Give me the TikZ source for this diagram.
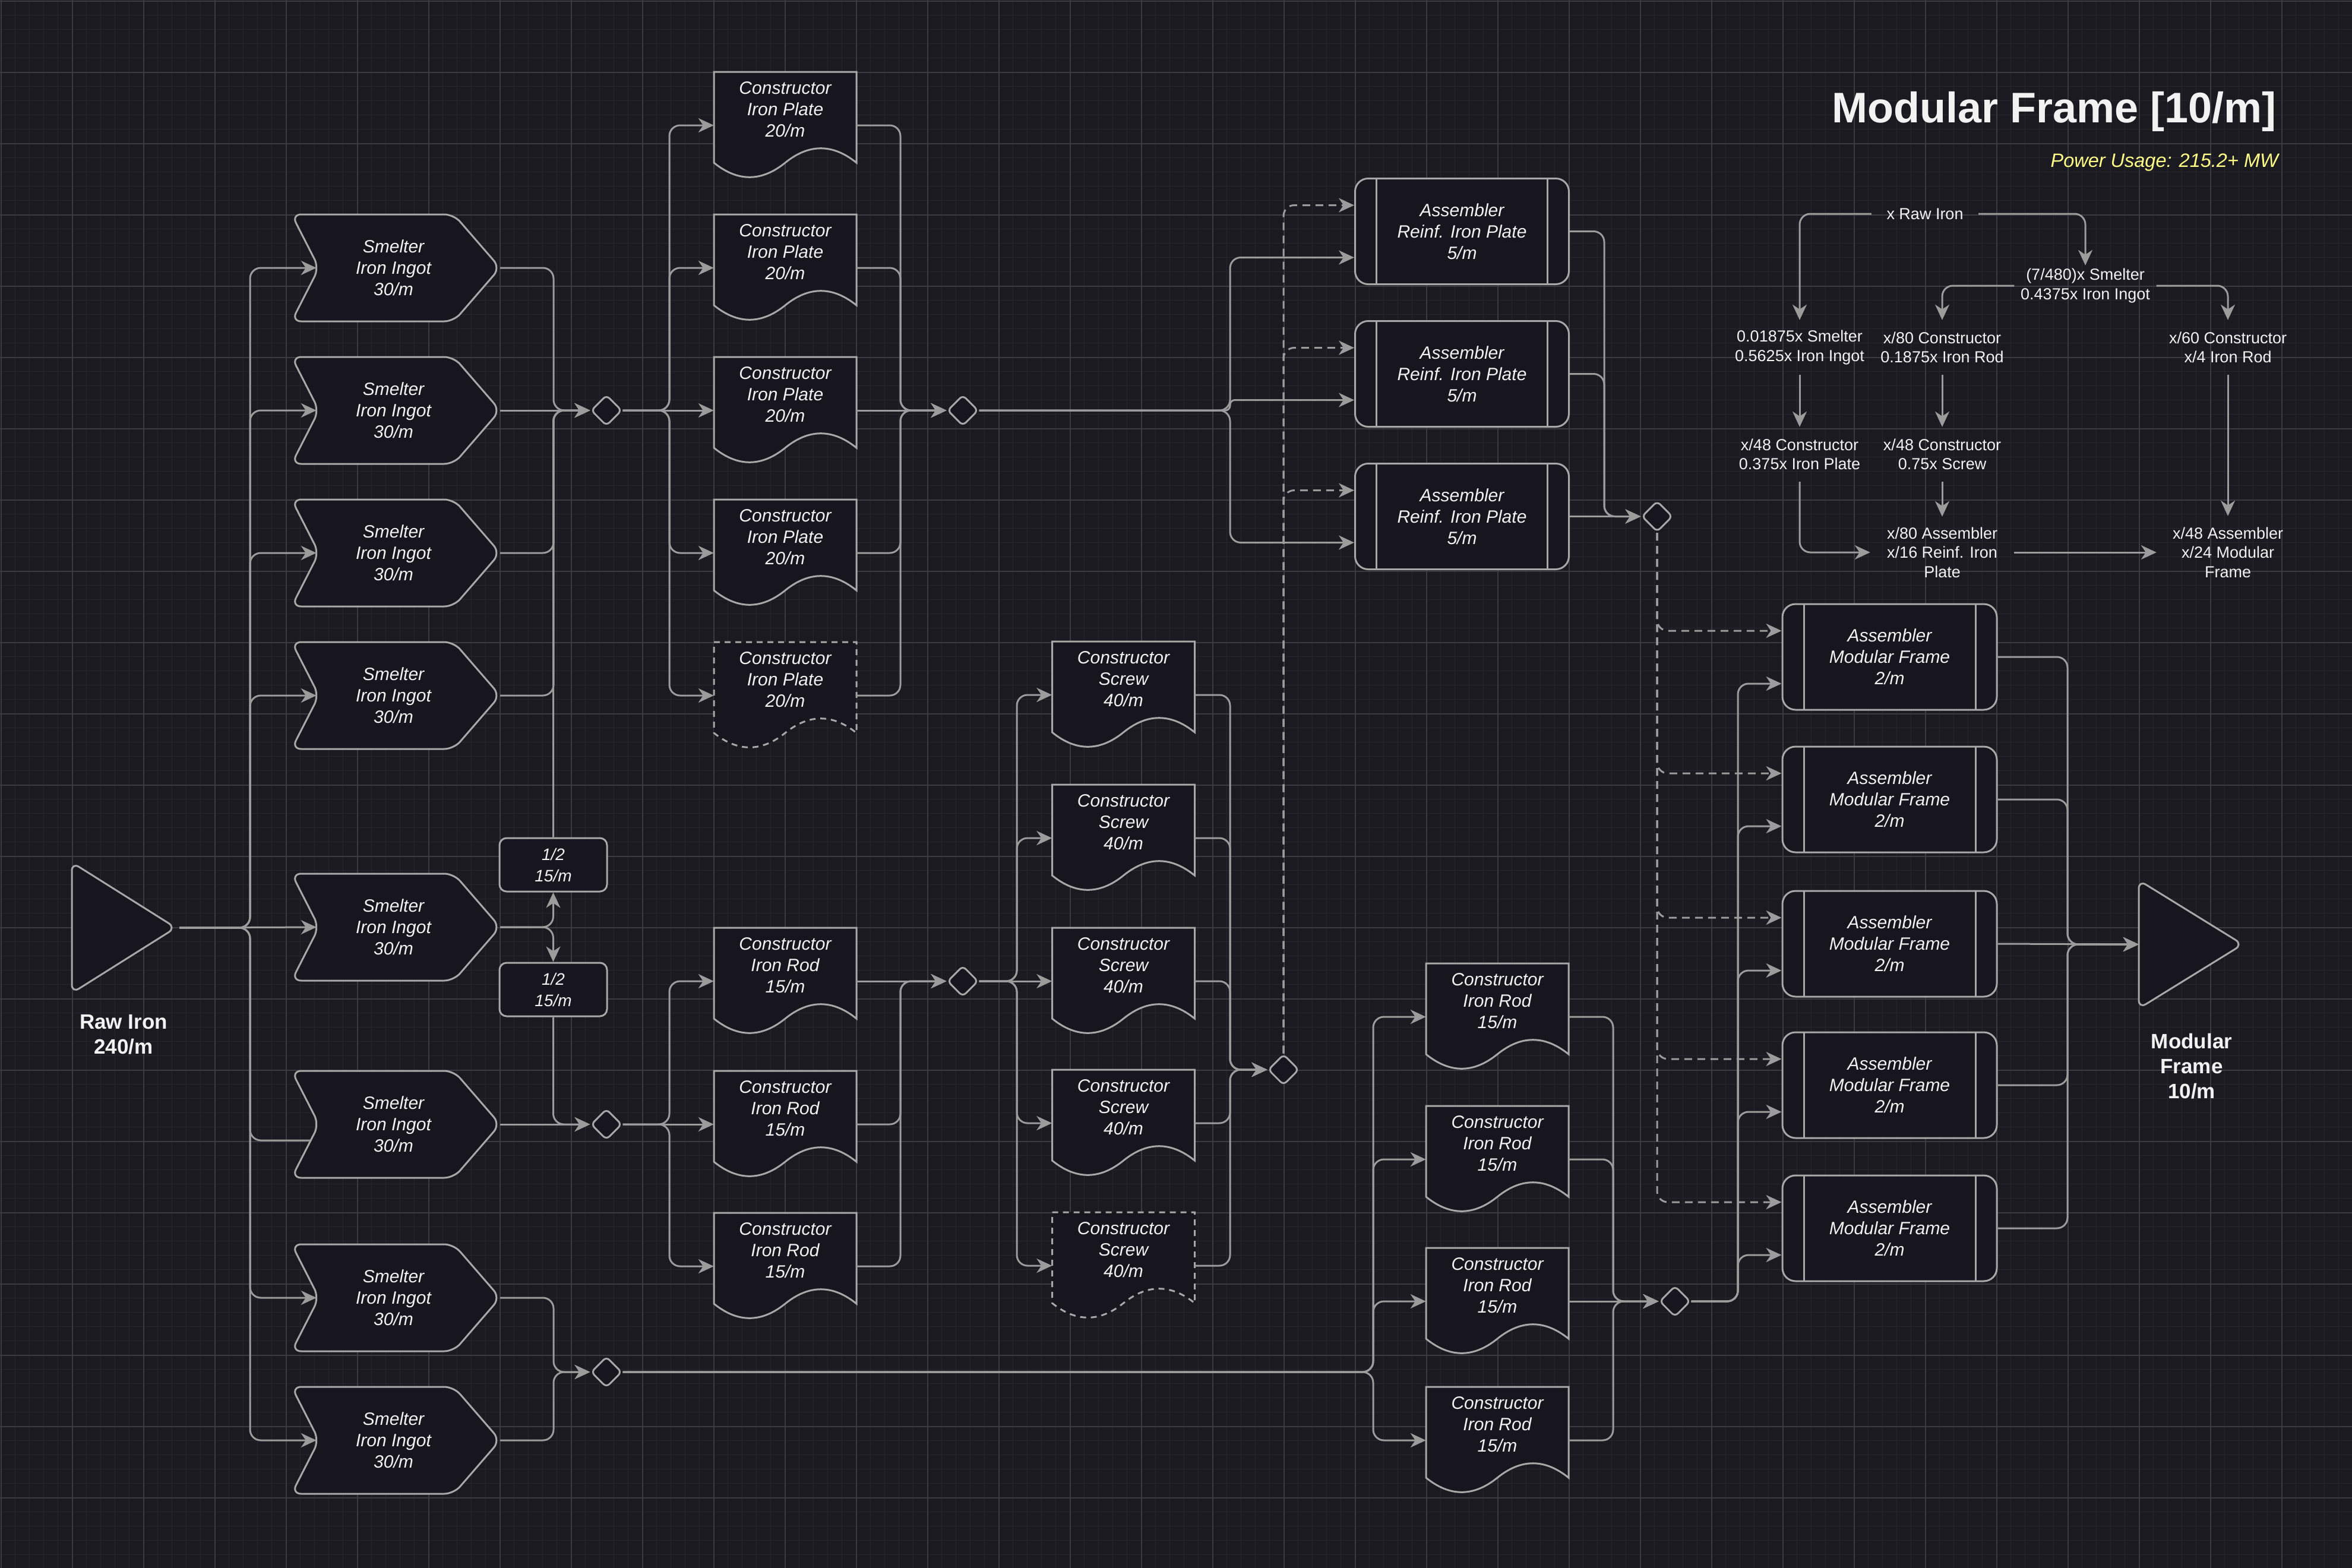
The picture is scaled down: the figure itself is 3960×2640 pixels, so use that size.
\documentclass[tikz,border=0pt]{standalone}
\usepackage{fontspec}
\setmainfont{Liberation Sans}
\usetikzlibrary{arrows.meta,shapes.geometric}
\definecolor{bgc}{HTML}{1B1A21}
\definecolor{gridminor}{HTML}{28272F}
\definecolor{gridmajor}{HTML}{3B3A43}
\definecolor{boxfill}{HTML}{17161E}
\definecolor{shapegray}{HTML}{A8A8A8}
\definecolor{linegray}{HTML}{9C9C9C}
\definecolor{txtc}{HTML}{F2F2F2}
\definecolor{powc}{HTML}{FFFF88}

\newcommand\mkSmelter[2]{%
  \draw[shapeline, rounded corners=16pt] (491,#2-90) -- (764,#2-90) -- (842,#2) -- (764,#2+90) -- (491,#2+90) -- (537,#2) -- cycle;
  \node[boxtext, inner sep=0pt, minimum width=343pt, minimum height=180pt] (#1) at (662.5,#2) {Smelter\\Iron Ingot\\30/m};
  \coordinate (#1i) at ([xshift=42pt]#1.west);
  \coordinate (#1o) at ([xshift=8pt]#1.east);
}
\newcommand\mkDoc[5]{%
  \draw[shapeline,#5] (#2-120,#3-90) -- (#2+120,#3-90) -- (#2+120,#3+63)
     .. controls (#2+80,#3+30.6) and (#2+40,#3+30.6) .. (#2,#3+63)
     .. controls (#2-40,#3+95.4) and (#2-80,#3+95.4) .. (#2-120,#3+63) -- cycle;
  \node[inner sep=0pt, minimum width=240pt, minimum height=180pt] (#1) at (#2,#3) {};
  \node[boxtext] (#1t) at (#2,#3-27) {#4};
}

\begin{document}
\begin{tikzpicture}[x=1pt,y=-1pt,
  shapeline/.style={draw=shapegray, line width=3pt, fill=boxfill},
  boxtext/.style={text=txtc, font=\fontsize{30}{36}\selectfont\itshape, align=center},
  conn/.style={draw=linegray, line width=3pt, rounded corners=18pt, -{Stealth[length=26pt,width=24pt,inset=8pt]}},
  plainconn/.style={draw=linegray, line width=3pt, rounded corners=18pt},
  dashconn/.style={conn, dash pattern=on 13pt off 9pt},
  dashbox/.style={dash pattern=on 10pt off 8pt},
  diam/.style={shape=diamond, draw=shapegray, fill=boxfill, line width=3pt, minimum width=52pt, minimum height=52pt, inner sep=0pt, rounded corners=7pt},
  halfbox/.style={shapeline, rounded corners=12pt, minimum width=181pt, minimum height=90pt, inner sep=0pt, text=txtc, font=\fontsize{28}{36}\selectfont\itshape, align=center},
  asm/.style={shapeline, boxtext, rounded corners=22pt, minimum width=360pt, minimum height=178pt, inner sep=0pt,
    path picture={\draw[draw=shapegray, line width=3pt]
      ([xshift=36pt]path picture bounding box.north west) -- ([xshift=36pt]path picture bounding box.south west)
      ([xshift=-36pt]path picture bounding box.north east) -- ([xshift=-36pt]path picture bounding box.south east);}},
  ftext/.style={text=txtc, font=\fontsize{27}{32.5}\selectfont, align=center, inner sep=0pt},
  biglabel/.style={text=txtc, font=\fontsize{35}{42}\selectfont\bfseries, align=center, inner sep=0pt},
]
% background and grid
\fill[bgc] (0,0) rectangle (3960,2640);
\useasboundingbox (0,0) rectangle (3960,2640);
\foreach \i in {0,...,165} \draw[gridminor, line width=1.2pt] ({1.5+24*\i},0) -- ({1.5+24*\i},2640);
\foreach \i in {0,...,110} \draw[gridminor, line width=1.2pt] (0,{1.5+24*\i}) -- (3960,{1.5+24*\i});
\foreach \i in {0,...,33} \draw[gridmajor, line width=2pt] ({1.5+120*\i},0) -- ({1.5+120*\i},2640);
\foreach \i in {0,...,22} \draw[gridmajor, line width=2pt] (0,{1.5+120*\i}) -- (3960,{1.5+120*\i});

% trunk x positions
\coordinate (xA) at (421,0);
\coordinate (xB) at (932,0);
\coordinate (xC) at (1127,0);
\coordinate (xD) at (1516,0);
\coordinate (xE) at (2071,0);
\coordinate (xF) at (1712,0);
\coordinate (xG) at (2701,0);
\coordinate (xH) at (2312,0);
\coordinate (xI) at (2716,0);
\coordinate (xJ) at (2926,0);
\coordinate (xK) at (3481,0);

% title
\node[anchor=base east, inner sep=0pt, text=txtc, font=\fontsize{72}{86}\selectfont\bfseries] (title) at (3833,206) {Modular Frame [10/m]};
\node[anchor=base east, inner sep=0pt, text=powc, font=\fontsize{32.5}{39}\selectfont\itshape] (power) at (3836,281) {Power Usage: 215.2+ MW};

% raw iron source
\draw[shapeline, rounded corners=14pt] (121,1452) -- (296,1562) -- (121,1672) -- cycle;
\node[inner sep=0pt, minimum width=175pt, minimum height=220pt] (raw) at (208.5,1562) {};
\coordinate (rawout) at ([xshift=6pt]raw.east);
\node[biglabel] (rawlbl) at (208,1742) {Raw Iron\\240/m};

% modular frame sink
\draw[shapeline, rounded corners=14pt] (3601,1482) -- (3776,1590) -- (3601,1698) -- cycle;
\node[inner sep=0pt, minimum width=175pt, minimum height=216pt] (mfo) at (3688.5,1590) {};
\node[biglabel] (mflbl) at (3690,1795) {Modular\\Frame\\10/m};

% smelters
\mkSmelter{s1}{451}
\mkSmelter{s2}{691}
\mkSmelter{s3}{931}
\mkSmelter{s4}{1171}
\mkSmelter{s5}{1561}
\mkSmelter{s6}{1893}
\mkSmelter{s7}{2185}
\mkSmelter{s8}{2425}
\coordinate (s6low) at ([xshift=32pt,yshift=-27pt]s6.west);

% splitter boxes
\node[halfbox] (h1) at (931.5,1456) {1/2\\15/m};
\node[halfbox] (h2) at (931.5,1666) {1/2\\15/m};

% diamonds
\node[diam] (d1) at (1021,691) {};
\node[diam] (d2) at (1621,691) {};
\node[diam] (d3) at (2790,869.5) {};
\node[diam] (d4) at (2820,2191) {};
\node[diam] (d5) at (1621,1652) {};
\node[diam] (d6) at (2161,1801) {};
\node[diam] (db) at (1021,1893) {};
\node[diam] (dc) at (1021,2310) {};

% iron plate constructors
\mkDoc{c1}{1322}{211}{Constructor\\Iron Plate\\20/m}{}
\mkDoc{c2}{1322}{451}{Constructor\\Iron Plate\\20/m}{}
\mkDoc{c3}{1322}{691}{Constructor\\Iron Plate\\20/m}{}
\mkDoc{c4}{1322}{931}{Constructor\\Iron Plate\\20/m}{}
\mkDoc{c5}{1322}{1171}{Constructor\\Iron Plate\\20/m}{dashbox}

% iron rod constructors (group 1)
\mkDoc{r1}{1322}{1652}{Constructor\\Iron Rod\\15/m}{}
\mkDoc{r2}{1322}{1893}{Constructor\\Iron Rod\\15/m}{}
\mkDoc{r3}{1322}{2132}{Constructor\\Iron Rod\\15/m}{}

% screw constructors
\mkDoc{sc1}{1891.5}{1170}{Constructor\\Screw\\40/m}{}
\mkDoc{sc2}{1891.5}{1411}{Constructor\\Screw\\40/m}{}
\mkDoc{sc3}{1891.5}{1652}{Constructor\\Screw\\40/m}{}
\mkDoc{sc4}{1891.5}{1891}{Constructor\\Screw\\40/m}{}
\mkDoc{sc5}{1891.5}{2131}{Constructor\\Screw\\40/m}{dashbox}

% iron rod constructors (group 2)
\mkDoc{r4}{2521}{1712}{Constructor\\Iron Rod\\15/m}{}
\mkDoc{r5}{2521}{1952}{Constructor\\Iron Rod\\15/m}{}
\mkDoc{r6}{2521}{2191}{Constructor\\Iron Rod\\15/m}{}
\mkDoc{r7}{2521}{2425}{Constructor\\Iron Rod\\15/m}{}

% reinforced iron plate assemblers
\node[asm] (a1) at (2461.5,389.5) {Assembler\\Reinf. Iron Plate\\5/m};
\node[asm] (a2) at (2461.5,629.5) {Assembler\\Reinf. Iron Plate\\5/m};
\node[asm] (a3) at (2461.5,869.5) {Assembler\\Reinf. Iron Plate\\5/m};
\foreach \k in {1,2,3} {
  \coordinate (a\k d) at ([yshift=44pt]a\k.west);
  \coordinate (a\k s) at ([yshift=-44pt]a\k.west);
}

% modular frame assemblers
\node[asm, minimum width=361pt] (m1) at (3181.5,1106) {Assembler\\Modular Frame\\2/m};
\node[asm, minimum width=361pt] (m2) at (3181.5,1346) {Assembler\\Modular Frame\\2/m};
\node[asm, minimum width=361pt] (m3) at (3181.5,1589) {Assembler\\Modular Frame\\2/m};
\node[asm, minimum width=361pt] (m4) at (3181.5,1827) {Assembler\\Modular Frame\\2/m};
\node[asm, minimum width=361pt] (m5) at (3181.5,2068) {Assembler\\Modular Frame\\2/m};
\foreach \k in {1,...,5} {
  \coordinate (m\k d) at ([yshift=44pt]m\k.west);
  \coordinate (m\k s) at ([yshift=-45pt]m\k.west);
}

% ---------------- connectors ----------------
% raw iron to smelters
\foreach \k in {1,2,3,4,7,8} \draw[conn] (rawout) -- (rawout -| xA) |- (s\k i);
\draw[conn] (rawout) -- (s5i);
\draw[plainconn] (rawout) -- (rawout -| xA) |- (s6low);

% smelters to merges
\foreach \k in {1,3,4} \draw[conn] (s\k o) -- (s\k o -| xB) |- (d1.west);
\draw[conn] (s2o) -- (d1.west);
\draw[conn] (h1.north) |- (d1.west);
\draw[conn] (s5o) -| (h1.south);
\draw[conn] (s5o) -| (h2.north);
\draw[conn] (h2.south) |- (db.west);
\draw[conn] (s6o) -- (db.west);
\foreach \k in {7,8} \draw[conn] (s\k o) -- (s\k o -| xB) |- (dc.west);

% ingots to iron plate constructors
\foreach \k in {1,2,4,5} \draw[conn] (d1.east) -- (d1.east -| xC) |- (c\k.west);
\draw[conn] (d1.east) -- (c3.west);
\foreach \k in {1,2,4,5} \draw[conn] (c\k.east) -- (c\k.east -| xD) |- (d2.west);
\draw[conn] (c3.east) -- (d2.west);

% plates to reinforced plate assemblers
\foreach \k in {1,3} \draw[conn] (d2.east) -- (d2.east -| xE) |- (a\k s);
\draw[conn, rounded corners=8pt] (d2.east) -- (d2.east -| xE) |- (a2s);

% ingots to iron rod constructors (group 1)
\foreach \k in {1,3} \draw[conn] (db.east) -- (db.east -| xC) |- (r\k.west);
\draw[conn] (db.east) -- (r2.west);
\foreach \k in {2,3} \draw[conn] (r\k.east) -- (r\k.east -| xD) |- (d5.west);
\draw[conn] (r1.east) -- (d5.west);

% rods to screw constructors
\foreach \k in {1,2,4,5} \draw[conn] (d5.east) -- (d5.east -| xF) |- (sc\k.west);
\draw[conn] (d5.east) -- (sc3.west);
\foreach \k in {1,...,5} \draw[conn] (sc\k.east) -- (sc\k.east -| xE) |- (d6.west);

% screws to reinforced plate assemblers
\foreach \k in {1,2,3} \draw[dashconn] (d6.north) |- (a\k d);

% reinforced plates to merge
\foreach \k in {1,2} \draw[conn] (a\k.east) -- (a\k.east -| xG) |- (d3.west);
\draw[conn] (a3.east) -- (d3.west);

% reinforced plates to modular frame assemblers
\foreach \k in {1,...,5} \draw[dashconn] (d3.south) |- (m\k d);

% ingots to iron rod constructors (group 2)
\foreach \k in {4,5,6,7} \draw[conn] (dc.east) -- (dc.east -| xH) |- (r\k.west);
\foreach \k in {4,5,7} \draw[conn] (r\k.east) -- (r\k.east -| xI) |- (d4.west);
\draw[conn] (r6.east) -- (d4.west);

% rods to modular frame assemblers
\foreach \k in {1,...,5} \draw[conn] (d4.east) -- (d4.east -| xJ) |- (m\k s);

% modular frames to output
\foreach \k in {1,2,4,5} \draw[conn] (m\k.east) -- (m\k.east -| xK) |- (mfo.west);
\draw[conn] (m3.east) -- (mfo.west);

% ---------------- formula block ----------------
\node[ftext, minimum width=180pt, minimum height=30pt] (f0) at (3241,360) {x Raw Iron};
\node[ftext, minimum width=239pt, minimum height=68pt] (f1) at (3511,481) {(7/480)x Smelter\\0.4375x Iron Ingot};
\node[ftext, minimum height=92pt] (f2) at (3030,585) {0.01875x Smelter\\0.5625x Iron Ingot};
\node[ftext, minimum height=92pt] (f3) at (3270,585) {x/80 Constructor\\0.1875x Iron Rod};
\node[ftext, minimum height=92pt] (f4) at (3751,585) {x/60 Constructor\\x/4 Iron Rod};
\node[ftext, minimum height=92pt] (f5) at (3030,765) {x/48 Constructor\\0.375x Iron Plate};
\node[ftext, minimum height=92pt] (f6) at (3270,765) {x/48 Constructor\\0.75x Screw};
\node[ftext, minimum width=242pt, minimum height=120pt] (f7) at (3270,930) {x/80 Assembler\\x/16 Reinf. Iron\\Plate};
\node[ftext, minimum width=240pt, minimum height=122pt] (f8) at (3751,930) {x/48 Assembler\\x/24 Modular\\Frame};

\draw[conn] (f0.west) -| (f2.north);
\draw[conn] (f0.east) -| (f1.north);
\draw[conn] (f1.west) -| (f3.north);
\draw[conn] (f1.east) -| (f4.north);
\draw[conn] (f2.south) -- (f5.north);
\draw[conn] (f3.south) -- (f6.north);
\draw[conn] (f5.south) |- (f7.west);
\draw[conn] (f6.south) -- (f7.north);
\draw[conn] (f4.south) -- (f8.north);
\draw[conn] (f7.east) -- (f8.west);
\end{tikzpicture}
\end{document}
